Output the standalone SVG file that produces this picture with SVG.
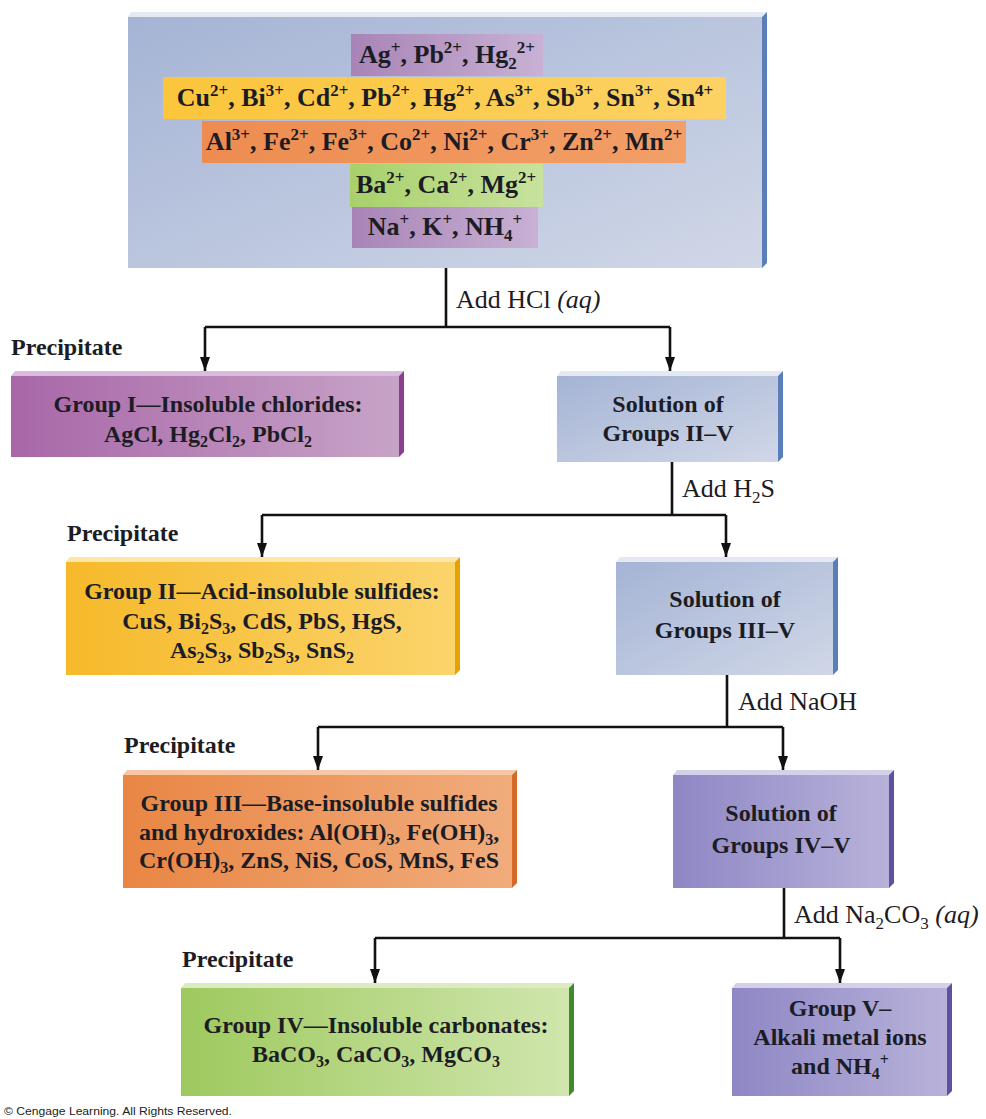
<svg xmlns="http://www.w3.org/2000/svg" width="986" height="1119" viewBox="0 0 986 1119">
<style>
.t{font-family:"Liberation Serif","Times New Roman",serif;font-weight:bold;font-size:24px;fill:#1c1c24;text-anchor:middle}
.ion{font-family:"Liberation Serif","Times New Roman",serif;font-weight:bold;font-size:26px;fill:#1c1c24;text-anchor:middle}
.lab{font-family:"Liberation Serif","Times New Roman",serif;font-size:26px;fill:#1c1c24}
.pre{font-family:"Liberation Serif","Times New Roman",serif;font-weight:bold;font-size:24px;fill:#1c1c24}
.s{font-size:16px}
.sl{font-size:17px}
.si{font-size:17px}
.line{fill:none;stroke:#111;stroke-width:2.6}
.copy{font-family:"Liberation Sans",Arial,sans-serif;font-size:10px;fill:#222}
</style>
<defs>
<marker id="ah" viewBox="0 0 10 14" refX="5" refY="14" markerWidth="10" markerHeight="14" markerUnits="userSpaceOnUse" orient="0">
<path d="M0,0 L10,0 L5,14 z" fill="#111"/>
</marker>
<linearGradient id="gBlue" x1="0" y1="0" x2="1" y2="1"><stop offset="0" stop-color="#a5b4d5"/><stop offset="1" stop-color="#d0d7e7"/></linearGradient>
<linearGradient id="gPurp" x1="0" y1="0" x2="1" y2="0"><stop offset="0" stop-color="#a867a8"/><stop offset="1" stop-color="#c7a3c7"/></linearGradient>
<linearGradient id="gYel" x1="0" y1="0" x2="1" y2="0"><stop offset="0" stop-color="#f6b92a"/><stop offset="1" stop-color="#fbd46c"/></linearGradient>
<linearGradient id="gOr" x1="0" y1="0" x2="1" y2="0"><stop offset="0" stop-color="#e98644"/><stop offset="1" stop-color="#f1ac7c"/></linearGradient>
<linearGradient id="gVio" x1="0" y1="0" x2="1" y2="0"><stop offset="0" stop-color="#8e87c5"/><stop offset="1" stop-color="#b8b2da"/></linearGradient>
<linearGradient id="gGr" x1="0" y1="0" x2="1" y2="0"><stop offset="0" stop-color="#9ec95e"/><stop offset="1" stop-color="#d0e6ad"/></linearGradient>
<linearGradient id="rPurp" x1="0" y1="0" x2="1" y2="0"><stop offset="0" stop-color="#a884b6"/><stop offset="1" stop-color="#c8b1d4"/></linearGradient>
<linearGradient id="rYel" x1="0" y1="0" x2="1" y2="0"><stop offset="0" stop-color="#fbc53c"/><stop offset="1" stop-color="#fcd264"/></linearGradient>
<linearGradient id="rOr" x1="0" y1="0" x2="1" y2="0"><stop offset="0" stop-color="#ed8c50"/><stop offset="1" stop-color="#f29f68"/></linearGradient>
<linearGradient id="rGr" x1="0" y1="0" x2="1" y2="0"><stop offset="0" stop-color="#a8d06a"/><stop offset="1" stop-color="#c8e29e"/></linearGradient>
</defs>

<g id="top-box">
<polygon points="128,17 131,12 767,12 762,17" fill="#e4e9f2"/>
<rect x="128" y="17" width="634" height="251" fill="url(#gBlue)"/>
<polygon points="762,17 767,12 767,263 762,268" fill="#5a7fb8"/>
<rect x="351" y="34" width="192" height="42" fill="url(#rPurp)"/>
<rect x="163" y="77" width="563" height="42" fill="url(#rYel)"/>
<rect x="202" y="121" width="484" height="42" fill="url(#rOr)"/>
<rect x="350" y="164" width="193" height="43" fill="url(#rGr)"/>
<rect x="352" y="207" width="186" height="41" fill="url(#rPurp)"/>
<text class="ion" x="447" y="63">Ag<tspan class="si" dy="-10">+</tspan><tspan dy="10">, Pb</tspan><tspan class="si" dy="-10">2+</tspan><tspan dy="10">, Hg</tspan><tspan class="si" dy="6">2</tspan><tspan class="si" dy="-16">2+</tspan></text>
<text class="ion" x="445" y="106">Cu<tspan class="si" dy="-10">2+</tspan><tspan dy="10">, Bi</tspan><tspan class="si" dy="-10">3+</tspan><tspan dy="10">, Cd</tspan><tspan class="si" dy="-10">2+</tspan><tspan dy="10">, Pb</tspan><tspan class="si" dy="-10">2+</tspan><tspan dy="10">, Hg</tspan><tspan class="si" dy="-10">2+</tspan><tspan dy="10">,  As</tspan><tspan class="si" dy="-10">3+</tspan><tspan dy="10">, Sb</tspan><tspan class="si" dy="-10">3+</tspan><tspan dy="10">, Sn</tspan><tspan class="si" dy="-10">3+</tspan><tspan dy="10">, Sn</tspan><tspan class="si" dy="-10">4+</tspan></text>
<text class="ion" x="444" y="150">Al<tspan class="si" dy="-10">3+</tspan><tspan dy="10">, Fe</tspan><tspan class="si" dy="-10">2+</tspan><tspan dy="10">, Fe</tspan><tspan class="si" dy="-10">3+</tspan><tspan dy="10">, Co</tspan><tspan class="si" dy="-10">2+</tspan><tspan dy="10">, Ni</tspan><tspan class="si" dy="-10">2+</tspan><tspan dy="10">, Cr</tspan><tspan class="si" dy="-10">3+</tspan><tspan dy="10">, Zn</tspan><tspan class="si" dy="-10">2+</tspan><tspan dy="10">, Mn</tspan><tspan class="si" dy="-10">2+</tspan></text>
<text class="ion" x="446" y="193">Ba<tspan class="si" dy="-10">2+</tspan><tspan dy="10">, Ca</tspan><tspan class="si" dy="-10">2+</tspan><tspan dy="10">, Mg</tspan><tspan class="si" dy="-10">2+</tspan></text>
<text class="ion" x="445" y="235">Na<tspan class="si" dy="-10">+</tspan><tspan dy="10">, K</tspan><tspan class="si" dy="-10">+</tspan><tspan dy="10">, NH</tspan><tspan class="si" dy="6">4</tspan><tspan class="si" dy="-16">+</tspan></text>
</g>

<g id="connectors">
<polyline class="line" points="446,268 446,327"/>
<polyline class="line" points="205,327 670,327"/>
<polyline class="line" points="205,327 205,371" marker-end="url(#ah)"/>
<polyline class="line" points="670,327 670,371" marker-end="url(#ah)"/>
<polyline class="line" points="672,462 672,515"/>
<polyline class="line" points="262,515 726,515"/>
<polyline class="line" points="262,515 262,557" marker-end="url(#ah)"/>
<polyline class="line" points="726,515 726,557" marker-end="url(#ah)"/>
<polyline class="line" points="727,675 727,727"/>
<polyline class="line" points="318,727 783,727"/>
<polyline class="line" points="318,727 318,770" marker-end="url(#ah)"/>
<polyline class="line" points="783,727 783,770" marker-end="url(#ah)"/>
<polyline class="line" points="784,888 784,938"/>
<polyline class="line" points="375,938 840,938"/>
<polyline class="line" points="375,938 375,983" marker-end="url(#ah)"/>
<polyline class="line" points="840,938 840,983" marker-end="url(#ah)"/>
<text class="lab" x="456" y="308">Add HCl <tspan font-style="italic">(aq)</tspan></text>
<text class="lab" x="682" y="497">Add H<tspan class="sl" dy="6">2</tspan><tspan dy="-6">S</tspan></text>
<text class="lab" x="738" y="710">Add NaOH</text>
<text class="lab" x="794" y="923">Add Na<tspan class="sl" dy="6">2</tspan><tspan dy="-6">CO</tspan><tspan class="sl" dy="6">3</tspan><tspan dy="-6" font-style="italic"> (aq)</tspan></text>
<text class="pre" x="11" y="355">Precipitate</text>
<text class="pre" x="67" y="541">Precipitate</text>
<text class="pre" x="124" y="753">Precipitate</text>
<text class="pre" x="182" y="967">Precipitate</text>
</g>

<g id="group-I">
<polygon points="11,376 15,371 404,371 399,376" fill="#d9bcd9"/>
<rect x="11" y="376" width="388" height="81" fill="url(#gPurp)"/>
<polygon points="399,376 404,371 404,452 399,457" fill="#8b3f8f"/>
<text class="t" x="208" y="412">Group I—Insoluble chlorides:</text>
<text class="t" x="208" y="442">AgCl, Hg<tspan class="s" dy="5">2</tspan><tspan dy="-5">Cl</tspan><tspan class="s" dy="5">2</tspan><tspan dy="-5">, PbCl</tspan><tspan class="s" dy="5">2</tspan></text>
</g>

<g id="solution-II-V">
<polygon points="557,376 561,371 783,371 778,376" fill="#e3e8f1"/>
<rect x="557" y="376" width="221" height="86" fill="url(#gBlue)"/>
<polygon points="778,376 783,371 783,457 778,462" fill="#5a7fb8"/>
<text class="t" x="668" y="412">Solution of</text>
<text class="t" x="668" y="441">Groups II–V</text>
</g>

<g id="group-II">
<polygon points="66,562 70,557 460,557 455,562" fill="#fde7a8"/>
<rect x="66" y="562" width="389" height="113" fill="url(#gYel)"/>
<polygon points="455,562 460,557 460,670 455,675" fill="#e5a203"/>
<text class="t" x="262" y="599">Group II—Acid-insoluble sulfides:</text>
<text class="t" x="262" y="629">CuS, Bi<tspan class="s" dy="5">2</tspan><tspan dy="-5">S</tspan><tspan class="s" dy="5">3</tspan><tspan dy="-5">, CdS, PbS, HgS,</tspan></text>
<text class="t" x="262" y="658">As<tspan class="s" dy="5">2</tspan><tspan dy="-5">S</tspan><tspan class="s" dy="5">3</tspan><tspan dy="-5">, Sb</tspan><tspan class="s" dy="5">2</tspan><tspan dy="-5">S</tspan><tspan class="s" dy="5">3</tspan><tspan dy="-5">, SnS</tspan><tspan class="s" dy="5">2</tspan></text>
</g>

<g id="solution-III-V">
<polygon points="616,562 620,557 838,557 833,562" fill="#e3e8f1"/>
<rect x="616" y="562" width="217" height="113" fill="url(#gBlue)"/>
<polygon points="833,562 838,557 838,670 833,675" fill="#5a7fb8"/>
<text class="t" x="725" y="607">Solution of</text>
<text class="t" x="725" y="638">Groups III–V</text>
</g>

<g id="group-III">
<polygon points="123,775 127,770 517,770 512,775" fill="#f6c7a6"/>
<rect x="123" y="775" width="389" height="113" fill="url(#gOr)"/>
<polygon points="512,775 517,770 517,883 512,888" fill="#d4692a"/>
<text class="t" x="319" y="811">Group III—Base-insoluble sulfides</text>
<text class="t" x="319" y="840">and hydroxides: Al(OH)<tspan class="s" dy="5">3</tspan><tspan dy="-5">, Fe(OH)</tspan><tspan class="s" dy="5">3</tspan><tspan dy="-5">,</tspan></text>
<text class="t" x="319" y="868">Cr(OH)<tspan class="s" dy="5">3</tspan><tspan dy="-5">, ZnS, NiS, CoS, MnS, FeS</tspan></text>
</g>

<g id="solution-IV-V">
<polygon points="673,775 677,770 894,770 889,775" fill="#d3d0ea"/>
<rect x="673" y="775" width="216" height="113" fill="url(#gVio)"/>
<polygon points="889,775 894,770 894,883 889,888" fill="#5b52a0"/>
<text class="t" x="781" y="821">Solution of</text>
<text class="t" x="781" y="853">Groups IV–V</text>
</g>

<g id="group-IV">
<polygon points="181,988 185,983 574,983 569,988" fill="#dcebc2"/>
<rect x="181" y="988" width="388" height="108" fill="url(#gGr)"/>
<polygon points="569,988 574,983 574,1091 569,1096" fill="#3e8b2f"/>
<text class="t" x="376" y="1033">Group IV—Insoluble carbonates:</text>
<text class="t" x="376" y="1062">BaCO<tspan class="s" dy="5">3</tspan><tspan dy="-5">, CaCO</tspan><tspan class="s" dy="5">3</tspan><tspan dy="-5">, MgCO</tspan><tspan class="s" dy="5">3</tspan></text>
</g>

<g id="group-V">
<polygon points="732,988 736,983 952,983 947,988" fill="#d3d0ea"/>
<rect x="732" y="988" width="215" height="108" fill="url(#gVio)"/>
<polygon points="947,988 952,983 952,1091 947,1096" fill="#5b52a0"/>
<text class="t" x="840" y="1016">Group V–</text>
<text class="t" x="840" y="1045">Alkali metal ions</text>
<text class="t" x="840" y="1074">and NH<tspan class="s" dy="5">4</tspan><tspan class="s" dy="-14">+</tspan></text>
</g>

<text class="copy" x="4" y="1115" textLength="228" lengthAdjust="spacingAndGlyphs">© Cengage Learning. All Rights Reserved.</text>
</svg>
